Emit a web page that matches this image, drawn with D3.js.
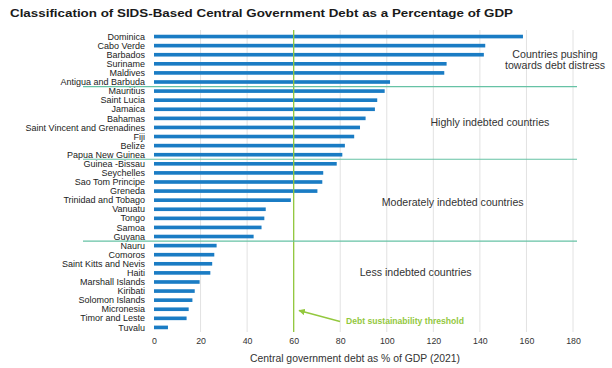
<!DOCTYPE html>
<html>
<head>
<meta charset="utf-8">
<script src="https://cdn.jsdelivr.net/npm/d3@7"></script>
<style>
  body { margin: 0; background: #fff; }
  text { font-family: "Liberation Sans", Arial, sans-serif; }
</style>
</head>
<body>
<div id="chart"></div>
<script>
// data
const countries = ["Dominica", "Cabo Verde", "Barbados", "Suriname", "Maldives", "Antigua and Barbuda",
    "Mauritius", "Saint Lucia", "Jamaica", "Bahamas", "Saint Vincent and Grenadines", "Fiji", "Belize", "Papua New Guinea",
    "Guinea -Bissau", "Seychelles", "Sao Tom Principe", "Greneda", "Trinidad and Tobago", "Vanuatu", "Tongo", "Samoa", "Guyana",
    "Nauru", "Comoros", "Saint Kitts and Nevis", "Haiti", "Marshall Islands", "Kiribati", "Solomon Islands", "Micronesia", "Timor and Leste", "Tuvalu"];
const debt = [158.5, 142.3, 141.7, 125.7, 124.7, 101.4,
    99.1, 95.9, 94.9, 90.9, 88.5, 86, 82, 80.9,
    78.5, 72.7, 72.3, 70.2, 58.8, 48, 47.4, 46.2, 42.8,
    26.9, 25.9, 25, 24.2, 19.6, 17.5, 16.5, 14.9, 14, 6];
const xTicks = [0, 20, 40, 60, 80, 100, 120, 140, 160, 180];
// index of the first country of each lower group
const groupBreaks = [6, 14, 23];
const groupNames = [["Countries pushing", "towards debt distress"], ["Highly indebted countries"],
    ["Moderately indebted countries"], ["Less indebted countries"]];
const threshold = 60;

const width = 612, height = 368;
const rowH = 9.09;
const top0 = 32;

const svg = d3.select("#chart")
    .append("svg")
    .attr("width", width)
    .attr("height", height);

const x = d3.scaleLinear()
    .domain([0, 180])
    .range([154, 573]);

const y = d3.scaleBand()
    .domain(countries)
    .range([top0, top0 + countries.length * rowH])
    .paddingInner(0.6)
    .paddingOuter(0.3);

// title
svg.append("text")
    .attr("x", 10)
    .attr("y", 17)
    .attr("font-size", "11.5px")
    .attr("font-weight", "bold")
    .attr("fill", "#1a1a1a")
    .attr("textLength", 503)
    .attr("lengthAdjust", "spacingAndGlyphs")
    .text("Classification of SIDS-Based Central Government Debt as a Percentage of GDP");

// gridlines
svg.append("g")
    .selectAll("line")
    .data(xTicks.slice(1))
    .join("line")
    .attr("x1", d => x(d))
    .attr("x2", d => x(d))
    .attr("y1", 30)
    .attr("y2", 332)
    .attr("stroke", "#e2e2e2")
    .attr("stroke-width", 1);

// bars
svg.append("g")
    .selectAll("rect")
    .data(countries)
    .join("rect")
    .attr("x", x(0))
    .attr("y", d => y(d))
    .attr("width", (d, i) => x(debt[i]) - x(0))
    .attr("height", y.bandwidth())
    .attr("fill", "#1a7cc4");

// threshold line
svg.append("line")
    .attr("x1", x(threshold))
    .attr("x2", x(threshold))
    .attr("y1", 30)
    .attr("y2", 332)
    .attr("stroke", "#93c83e")
    .attr("stroke-width", 1.3);

// country labels
svg.append("g")
    .selectAll("text")
    .data(countries)
    .join("text")
    .attr("x", 145)
    .attr("y", d => y(d) + y.bandwidth() / 2)
    .attr("dy", "0.35em")
    .attr("text-anchor", "end")
    .attr("font-size", "9px")
    .attr("fill", "#222")
    .text(d => d);

// group separators
svg.append("g")
    .selectAll("line")
    .data(groupBreaks)
    .join("line")
    .attr("x1", 83)
    .attr("x2", 577)
    .attr("y1", d => top0 + d * y.step())
    .attr("y2", d => top0 + d * y.step())
    .attr("stroke", "#66c2a5")
    .attr("stroke-width", 1.2);

// group labels (centre in data units, baseline in px)
const labelPos = [[172.3, 58], [144.3, 126], [128.3, 205.5], [112.4, 275.5]];
groupNames.forEach((lines, k) => {
    const t = svg.append("text")
        .attr("text-anchor", "middle")
        .attr("font-size", "10.6px")
        .attr("fill", "#333");
    lines.forEach((l, i) => {
        t.append("tspan")
            .attr("x", x(labelPos[k][0]))
            .attr("y", labelPos[k][1] + i * 11.3)
            .text(l);
    });
});

// x axis
const xAxis = svg.append("g")
    .attr("transform", `translate(0, 333)`)
    .call(d3.axisBottom(x).tickValues(xTicks).tickSize(0).tickPadding(5));
xAxis.select(".domain").remove();
xAxis.selectAll("text")
    .attr("font-size", "8.8px")
    .attr("fill", "#333")
    .style("font-family", "Liberation Sans, Arial, sans-serif");

svg.append("text")
    .attr("x", 355)
    .attr("y", 362)
    .attr("text-anchor", "middle")
    .attr("font-size", "10.4px")
    .attr("fill", "#333")
    .text("Central government debt as % of GDP (2021)");

// threshold annotation
svg.append("defs").append("marker")
    .attr("id", "arrow")
    .attr("viewBox", "0 0 10 10")
    .attr("refX", 9)
    .attr("refY", 5)
    .attr("markerWidth", 5)
    .attr("markerHeight", 5)
    .attr("orient", "auto")
    .append("path")
    .attr("d", "M0,0 L10,5 L0,10 z")
    .attr("fill", "#93c83e");

svg.append("line")
    .attr("x1", 340)
    .attr("y1", 321.5)
    .attr("x2", 299)
    .attr("y2", 310.5)
    .attr("stroke", "#93c83e")
    .attr("stroke-width", 1.3)
    .attr("marker-end", "url(#arrow)");

svg.append("text")
    .attr("x", 346)
    .attr("y", 324)
    .attr("font-size", "8.6px")
    .attr("font-weight", "bold")
    .attr("fill", "#93c83e")
    .text("Debt sustainability threshold");
</script>
</body>
</html>
